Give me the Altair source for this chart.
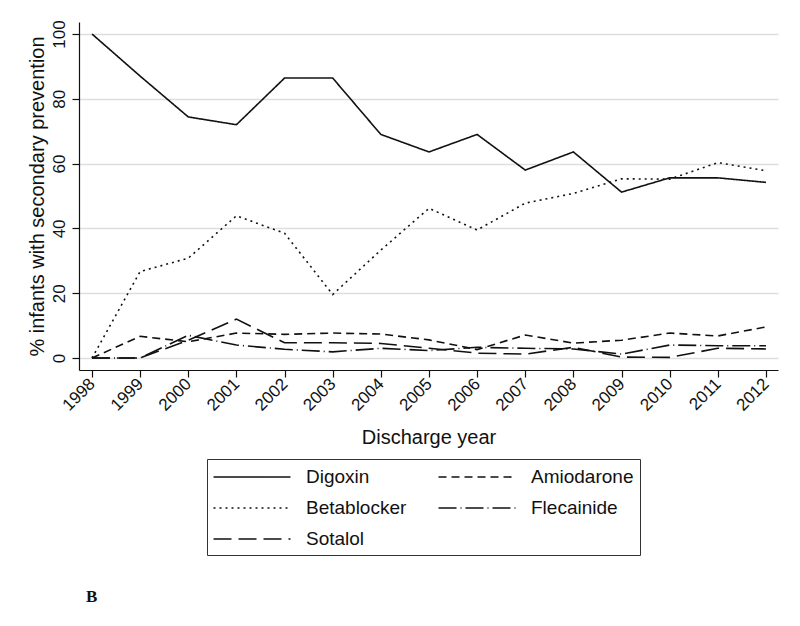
import altair as alt
import pandas as pd

years = list(range(1998, 2013))
# legend order (filled column by column): Digoxin, Betablocker, Sotalol | Amiodarone, Flecainide
series_names = ["Digoxin", "Betablocker", "Sotalol", "Amiodarone", "Flecainide"]

digoxin = [100, 87.0, 74.4, 72.0, 86.4, 86.4, 69.0, 63.6, 69.0, 58.0, 63.6, 51.2, 55.6, 55.6, 54.2]
betablocker = [0, 26.7, 30.8, 43.9, 38.5, 19.6, 33.3, 46.2, 39.5, 47.8, 50.8, 55.3, 55.2, 60.3, 57.8]
amiodarone = [0, 6.7, 5.0, 7.7, 7.3, 7.7, 7.4, 5.6, 2.6, 7.1, 4.6, 5.5, 7.7, 6.8, 9.6]
flecainide = [0, 0, 7.0, 4.0, 2.7, 1.9, 3.0, 2.3, 3.3, 3.0, 2.8, 1.2, 4.0, 3.8, 3.8]
sotalol = [0, 0, 5.5, 12.0, 4.7, 4.7, 4.5, 3.0, 1.5, 1.2, 3.3, 0.3, 0.2, 3.0, 2.8]

dashes = [[1, 0], [2, 4], [18, 7], [8, 5], [18, 4, 1, 4]]

values = {
    "Digoxin": digoxin,
    "Amiodarone": amiodarone,
    "Betablocker": betablocker,
    "Flecainide": flecainide,
    "Sotalol": sotalol,
}
rows = []
for name in series_names:
    for yr, v in zip(years, values[name]):
        rows.append({"year": yr, "pct": v, "drug": name})
df = pd.DataFrame(rows)

font = "Liberation Sans"

lines = alt.Chart(df).mark_line(strokeWidth=1.6, color="#111111").encode(
    x=alt.X(
        "year:Q",
        scale=alt.Scale(domain=[1997.73, 2012.25], nice=False, zero=False),
        axis=alt.Axis(
            values=years,
            format="d",
            title="Discharge year",
            labelAngle=315,
            labelAlign="right",
            labelBaseline="middle",
            labelPadding=4,
            tickSize=7,
            grid=False,
            titlePadding=14,
        ),
    ),
    y=alt.Y(
        "pct:Q",
        scale=alt.Scale(domain=[-3.7, 103.7], nice=False, zero=False),
        axis=alt.Axis(
            values=[0, 20, 40, 60, 80, 100],
            title="% infants with secondary prevention",
            labelAngle=270,
            labelAlign="center",
            labelBaseline="middle",
            labelPadding=13,
            tickSize=7,
            grid=True,
            gridColor="#dedede",
            gridWidth=1.5,
            titlePadding=3,
        ),
    ),
    strokeDash=alt.StrokeDash(
        "drug:N",
        scale=alt.Scale(domain=series_names, range=dashes),
        legend=alt.Legend(
            title=None,
            orient="none",
            legendX=128,
            legendY=437,
            columns=2,
            symbolType="M-3.5,0H3.5",
            symbolSize=484,
            symbolOffset=27,
            symbolStrokeWidth=1.6,
            symbolStrokeColor="#111111",
            labelFontSize=19,
            labelFont=font,
            labelColor="#111111",
            labelOffset=42,
            columnPadding=28,
            rowPadding=9,
            padding=6,
            strokeColor="#333333",
            fillColor="white",
            labelLimit=300,
        ),
    ),
    detail="drug:N",
)

label_b = alt.Chart(pd.DataFrame({"t": ["B"]})).mark_text(
    font="Liberation Serif", fontSize=17, fontWeight="bold", align="left", baseline="middle", color="#111111"
).encode(x=alt.value(7), y=alt.value(575), text="t:N")

chart = alt.layer(lines, label_b).properties(
    width=699,
    height=348,
    autosize=alt.AutoSizeParams(type="none"),
    padding={"left": 71, "top": 14, "right": 10, "bottom": 240},
).configure_view(stroke=None).configure_axis(
    labelFont=font,
    titleFont=font,
    labelFontSize=17,
    titleFontSize=20,
    titleFontWeight="normal",
    labelColor="#111111",
    titleColor="#111111",
    domainColor="#111111",
    tickColor="#111111",
    domainWidth=1.2,
    tickWidth=1.2,
)

chart.save("out.html", embed_options={"renderer": "svg", "actions": False})
